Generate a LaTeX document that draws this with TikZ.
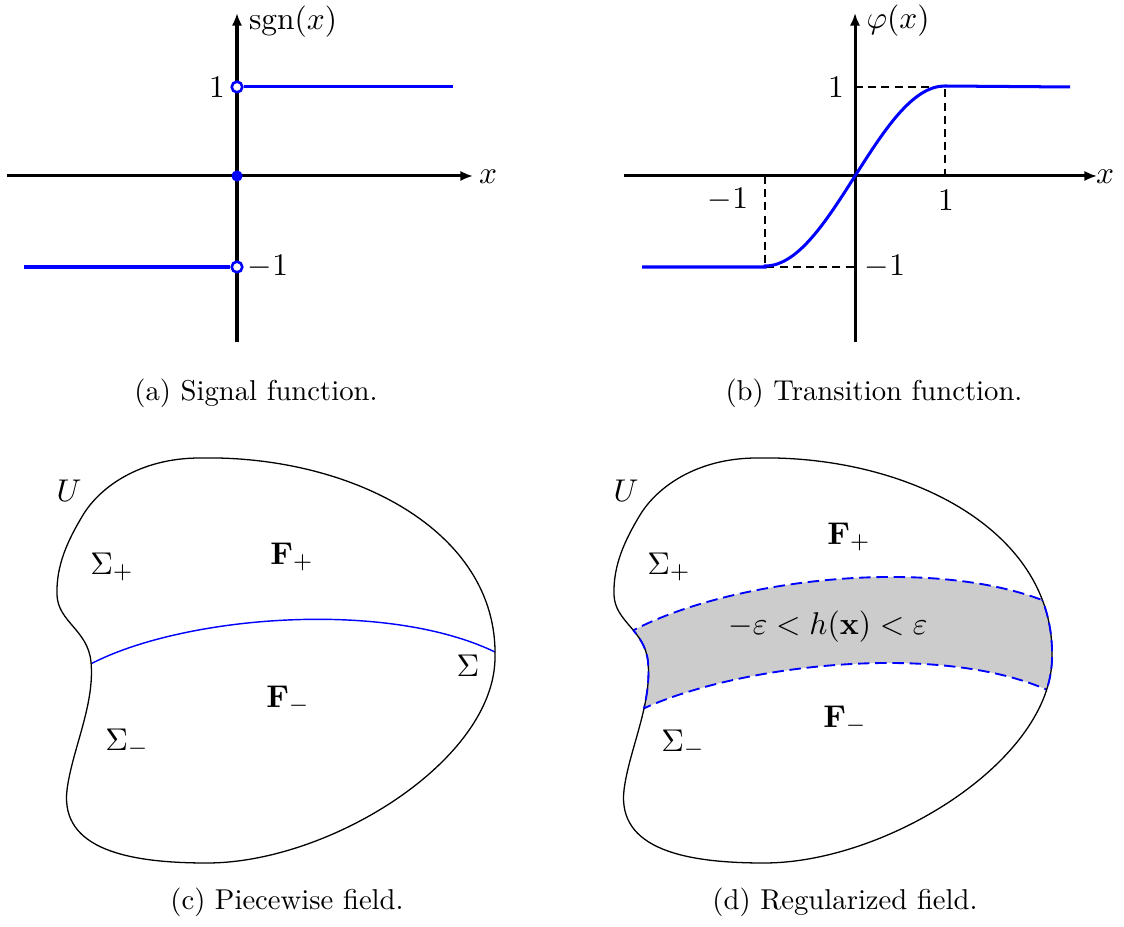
\documentclass[tikz,border=0pt]{standalone}
\usetikzlibrary{arrows.meta}
\newcommand\blobshape{(200,458) .. controls (350,455) and (498,530) .. (495,657) .. controls (495,760) and (330,863) .. (207,863) .. controls (130,863) and (60,850) .. (67,790) .. controls (72,750) and (95,705) .. (91,662) .. controls (88,630) and (58,622) .. (57,595) .. controls (56,565) and (68,540) .. (83,515) .. controls (100,487) and (140,458) .. (200,458) -- cycle}
\newcommand\bandshape{(55,643) .. controls (150,578) and (400,548) .. (515,614) -- (510,700) .. controls (400,635) and (160,665) .. (68,718) -- cycle}
\begin{document}
\begin{tikzpicture}[x=0.3484pt,y=-0.3484pt,
  axis/.style={line width=1.05pt,-{Latex[length=4.4pt,width=3.6pt]}},
  fn/.style={blue,line width=1.05pt},
  lbl/.style={font=\fontsize{10.95}{13}\selectfont,inner sep=0pt},
  captext/.style={font=\fontsize{10}{12}\selectfont,inner sep=0pt},
  guide/.style={line width=0.45pt,dash pattern=on 2.8pt off 1.8pt},
  opendot/.style={circle,draw=blue,fill=white,line width=0.9pt,inner sep=0pt,minimum size=3.7pt},
  fulldot/.style={circle,fill=blue,inner sep=0pt,minimum size=3.9pt},
  outline/.style={line width=0.45pt},
  band/.style={blue,line width=0.65pt,dash pattern=on 4pt off 2pt}]
\useasboundingbox (0,0) rectangle (1124,927);

% ---------- (a) ----------
\coordinate (axL) at (7,176);
\coordinate (axR) at (473,176);
\coordinate (ayB) at (237,342);
\coordinate (ayT) at (237,13);
\coordinate (sL) at (24,267);
\coordinate (sR) at (453,87);
\draw[axis] (axL) -- (axR);
\draw[axis] (ayB) -- (ayT);
\node[opendot] (p1) at (237,87) {};
\node[opendot] (m1) at (237,267) {};
\draw[fn] (p1) -- (sR);
\draw[fn] (sL) -- (m1);
\node[fulldot] (z0) at (237,176) {};
\node[lbl] (xa) at (488,177) {$x$};
\node[lbl] (sgn) at (293,22) {$\mathrm{sgn}(x)$};
\node[lbl] (one) at (217,87) {$1$};
\node[lbl] (mone) at (268,267) {$-1$};
\node[captext] (capa) at (256,393) {(a) Signal function.};

% ---------- (b) ----------
\coordinate (bxL) at (624,176);
\coordinate (bxR) at (1097,176);
\coordinate (byB) at (855,342);
\coordinate (byT) at (855,13);
\coordinate (q1) at (945,87);
\coordinate (q1x) at (945,176);
\coordinate (q1y) at (855,87);
\coordinate (qm) at (765,267);
\coordinate (qmx) at (765,176);
\coordinate (qmy) at (855,267);
\coordinate (tL) at (642,267);
\coordinate (tR) at (1070,87);
\draw[guide] (q1y) -- (q1) -- (q1x);
\draw[guide] (qmx) -- (qm) -- (qmy);
\draw[axis] (bxL) -- (bxR);
\draw[axis] (byB) -- (byT);
\draw[fn] (tL) -- (qm) -- plot[domain=-1:1,samples=80] ({855+90*\x},{176-90*sin(90*\x)}) -- (tR);
\node[lbl] (xb) at (1105,177) {$x$};
\node[lbl] (phi) at (898,21) {$\varphi(x)$};
\node[lbl] (b1) at (836,87) {$1$};
\node[lbl] (b1x) at (946,200) {$1$};
\node[lbl] (bm1x) at (728,200) {$-1$};
\node[lbl] (bm1) at (885,267) {$-1$};
\node[captext] (capb) at (874,393) {(b) Transition function.};

% ---------- (c) ----------
\begin{scope}
  \begin{scope}
    \clip \blobshape;
    \draw[blue,line width=0.5pt] (80,670) .. controls (170,615) and (400,595) .. (510,660);
  \end{scope}
  \draw[outline] \blobshape;
  \node[lbl] (Uc) at (69,491) {$U$};
  \node[lbl] (spc) at (112,567) {$\Sigma_+$};
  \node[lbl] (fpc) at (292,557) {$\mathbf{F}_+$};
  \node[lbl] (sc) at (468,666) {$\Sigma$};
  \node[lbl] (fmc) at (288,700) {$\mathbf{F}_-$};
  \node[lbl] (smc) at (127,743) {$\Sigma_-$};
  \node[captext] (capc) at (287,902) {(c) Piecewise field.};
\end{scope}

% ---------- (d) ----------
\begin{scope}[shift={(557,0)}]
  \begin{scope}
    \clip \blobshape;
    \fill[gray!40] \bandshape;
    \draw[band] (55,643) .. controls (150,578) and (400,548) .. (515,614);
    \draw[band] (68,718) .. controls (160,665) and (400,635) .. (510,700);
  \end{scope}
  \draw[outline] \blobshape;
  \begin{scope}
    \clip \bandshape;
    \draw[band] \blobshape;
  \end{scope}
  \node[lbl] (Ud) at (69,491) {$U$};
  \node[lbl] (spd) at (112,567) {$\Sigma_+$};
  \node[lbl] (fpd) at (292,537) {$\mathbf{F}_+$};
  \node[lbl] (eps) at (271,627) {$-\varepsilon < h(\mathbf{x}) < \varepsilon$};
  \node[lbl] (fmd) at (288,720) {$\mathbf{F}_-$};
  \node[lbl] (smd) at (126,744) {$\Sigma_-$};
  \node[captext] (capd) at (288,902) {(d) Regularized field.};
\end{scope}
\end{tikzpicture}
\end{document}
